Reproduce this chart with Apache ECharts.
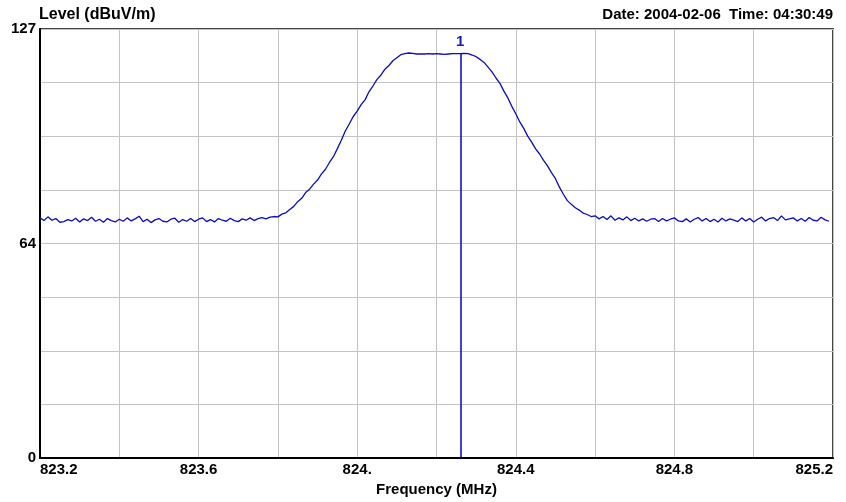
<!DOCTYPE html>
<html>
<head>
<meta charset="utf-8">
<title>Level (dBuV/m)</title>
<script src="https://cdn.jsdelivr.net/npm/echarts@6/dist/echarts.min.js"></script>
<style>
  html, body { margin: 0; padding: 0; background: #fff; }
  #chart { width: 846px; height: 502px; }
</style>
</head>
<body>
<div id="chart"></div>
<script>
// sweep grid
const startFreq = 823.2;
const stepFreq = 0.01;

const lowerFloor = [
  71.1, 70.3, 71.4, 70.4, 70.9, 69.8, 70.0, 70.6, 70.2, 71.0,
  69.9, 70.8, 70.3, 71.3, 70.1, 70.7, 69.8, 70.9, 70.3, 69.9,
  70.7, 70.1, 71.1, 70.2, 70.8, 71.6, 70.0, 70.7, 69.7, 70.5,
  70.9, 70.1, 69.9, 70.7, 71.0, 69.8, 70.6, 70.1, 70.9, 70.0,
  70.7, 71.1, 70.0, 70.6, 69.9, 70.9, 70.4, 70.1, 71.0, 70.3,
  70.0, 70.8, 70.4, 71.1, 70.3, 70.9, 71.2, 70.8, 71.3, 71.5
];
const riseEdge = [
  71.4, 72.2, 72.6, 73.6, 74.5, 75.9, 76.9, 78.6, 79.6, 81.1,
  82.3, 84.1, 85.5, 87.5, 89.2, 91.6, 94.1, 96.8, 98.9, 101.1,
  102.7, 104.6, 106.1, 108.5, 110.2, 112.1, 113.4, 115.1, 116.2, 117.6,
  118.5, 119.4, 119.7, 119.9
];
const topFlat = [
  119.8, 119.6, 119.6, 119.6, 119.7, 119.6, 119.7, 119.6, 119.5, 119.6,
  119.7, 119.7, 119.7, 119.8, 119.7
];
const fallEdge = [
  119.3, 118.8, 118.0, 117.1, 115.7, 114.3, 112.5, 110.9, 108.6, 106.6,
  104.1, 101.9, 99.5, 97.6, 95.3, 93.5, 91.5, 90.0, 88.1, 86.5,
  84.5, 82.7, 80.2, 78.1, 76.2, 75.1, 74.1, 73.4, 72.5, 72.1,
  71.5, 71.7
];
const upperFloor = [
  70.8, 71.5, 70.6, 71.7, 70.4, 71.1, 70.5, 71.4, 70.3, 71.0,
  70.2, 70.8, 70.1, 70.7, 70.9, 70.0, 70.9, 70.2, 70.7, 71.1,
  70.2, 70.0, 70.8, 69.9, 70.7, 71.2, 70.2, 70.9, 70.0, 70.7,
  69.9, 71.0, 70.2, 70.8, 70.4, 70.0, 71.1, 70.2, 70.9, 69.9,
  70.7, 71.3, 70.2, 70.9, 71.2, 70.3, 71.7, 70.5, 70.8, 71.1,
  70.2, 70.9, 70.1, 71.2, 70.4, 70.2, 71.3, 70.5, 70.1
];

// marker 1
const markerFreq = 824.26;
const markerLevel = 119.7;

// axis labels
const yLabels = { 0: '0', 63.5: '64', 127: '127' };

const levels = [].concat(lowerFloor, riseEdge, topFlat, fallEdge, upperFloor);
const trace = levels.map((v, i) => [+(startFreq + i * stepFreq).toFixed(2), v]);

const font = 'Liberation Sans, Arial, sans-serif';
const chart = echarts.init(document.getElementById('chart'));

chart.setOption({
  animation: false,
  backgroundColor: '#fff',
  title: [{
    text: 'Level (dBuV/m)',
    left: 39, top: 7, padding: 0,
    textStyle: { fontFamily: font, fontSize: 16, fontWeight: 'bold', color: '#000' }
  }, {
    text: 'Date: 2004-02-06  Time: 04:30:49',
    right: 13, top: 7, padding: 0,
    textStyle: { fontFamily: font, fontSize: 15, fontWeight: 'bold', color: '#000' }
  }],
  grid: {
    left: 40, right: 13, top: 29, bottom: 42,
    show: true, borderColor: '#444', borderWidth: 2, backgroundColor: '#fff'
  },
  xAxis: {
    type: 'value',
    min: 823.2, max: 825.2, interval: 0.2,
    name: 'Frequency (MHz)',
    nameLocation: 'middle',
    nameGap: 23,
    nameTextStyle: { fontFamily: font, fontSize: 15, fontWeight: 'bold', color: '#000' },
    axisLine: { lineStyle: { color: '#000', width: 2 } },
    axisTick: { show: false },
    axisLabel: {
      margin: 4,
      fontFamily: font, fontSize: 15, fontWeight: 'bold', color: '#000',
      alignMinLabel: 'left', alignMaxLabel: 'right',
      formatter: v => {
        const k = Math.round((v - 823.2) / 0.2);
        if (k % 2 !== 0) return '';
        const s = v.toFixed(1);
        return s.endsWith('.0') ? s.slice(0, -1) : s;
      }
    },
    splitLine: { show: true, lineStyle: { color: '#c4c4c4', width: 1 } }
  },
  yAxis: {
    type: 'value',
    min: 0, max: 127, interval: 15.875,
    axisLine: { show: true, lineStyle: { color: '#000', width: 2 } },
    axisTick: { show: false },
    axisLabel: {
      margin: 4,
      fontFamily: font, fontSize: 15, fontWeight: 'bold', color: '#000',
      formatter: v => {
        const key = Math.round(v * 10) / 10;
        return yLabels[key] !== undefined ? yLabels[key] : '';
      }
    },
    splitLine: { show: true, lineStyle: { color: '#c4c4c4', width: 1 } }
  },
  series: [{
    type: 'line',
    data: trace,
    showSymbol: false,
    symbol: 'none',
    lineStyle: { color: '#0c0cc4', width: 1.3 },
    markLine: {
      silent: true,
      symbol: 'none',
      lineStyle: { color: '#0000c8', width: 1.5, type: 'solid' },
      label: {
        show: true, position: 'end', distance: 4, formatter: '1',
        fontFamily: font, fontSize: 15, fontWeight: 'bold', color: '#1a1ac0'
      },
      data: [[
        { coord: [markerFreq, 0] },
        { coord: [markerFreq, markerLevel] }
      ]]
    }
  }]
});
</script>
</body>
</html>
